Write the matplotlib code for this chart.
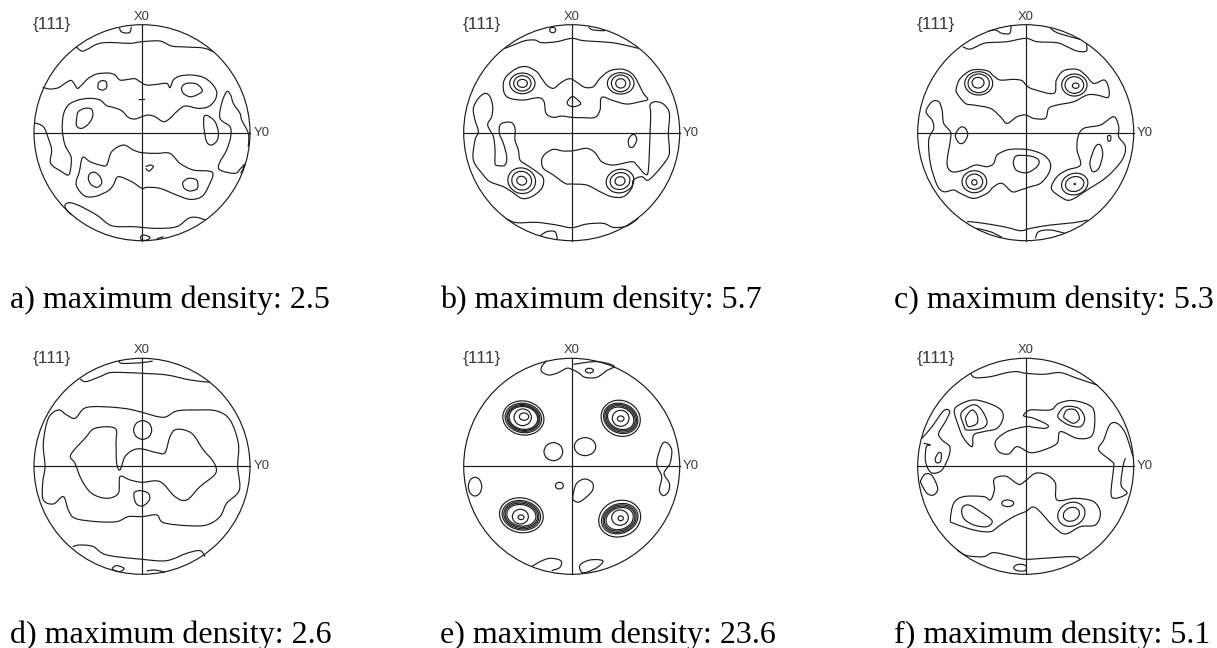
import matplotlib
matplotlib.use('Agg')
import matplotlib.pyplot as plt
from matplotlib.patches import Circle, Ellipse, PathPatch
from matplotlib.path import Path
import numpy as np

W, H = 1217, 648
INK = '#1c1c1c'
LW = 0.85

CAPTIONS = ['a) maximum density: 2.5', 'b) maximum density: 5.7', 'c) maximum density: 5.3',
            'd) maximum density: 2.6', 'e) maximum density: 23.6', 'f) maximum density: 5.1']

# contours, in 3x crop pixels, each panel has its own centre
A_C = (426, 398)
A_LINES = [
    [(358,84),(364,95),(378,99),(390,96),(394,80)],
    [(228,140),(245,153),(262,148),(285,135),(310,128),(350,128),(390,130),(426,125),(480,123),(515,138),(560,141),(610,144),(640,155)],
    [(128,262),(150,267),(175,263),(195,250),(212,241),(222,250),(232,265),(245,255),(265,235),(290,222),(325,219),(345,225),(360,240),(385,238),(405,236),(420,245),(440,255),(470,253),(500,250),(510,263),(520,240),(540,228),(575,225),(610,232),(635,250),(650,275),(645,300),(625,320),(595,325),(555,318),(530,335),(510,355),(490,365),(465,350),(445,345),(426,350),(405,357),(385,352),(365,332),(340,322),(320,317),(300,300),(270,295),(235,300),(205,315),(190,345),(187,390),(195,435),(213,470),(212,505),(205,525),(185,515),(152,490),(155,450),(145,415),(130,380),(103,368)],
    [(248,472),(270,485),(300,495),(320,495),(335,455),(370,435),(400,450),(426,458),(470,460),(510,460),(540,490),(580,510),(637,517),(625,560),(605,590),(570,598),(530,585),(480,565),(440,562),(426,565),(395,545),(355,530),(340,555),(325,572),(290,588),(260,590),(240,575),(228,550),(238,515),(248,472)],
    [(295,250),(305,242),(318,245),(320,262),(308,270),(295,265),(295,250)],
    [(545,262),(560,250),(590,252),(607,272),(590,285),(570,290),(550,280),(545,262)],
    [(235,335),(255,325),(275,328),(278,350),(265,372),(245,385),(230,378),(230,355),(235,335)],
    [(416,299),(435,298)],
    [(612,350),(625,348),(645,365),(655,395),(652,420),(635,435),(620,425),(612,385),(612,350)],
    [(745,440),(745,400),(725,360),(720,340),(700,310),(692,285),(680,275),(665,310),(660,355),(690,380),(692,410),(680,450),(658,490),(660,510),(705,520),(722,505),(735,493),(722,520)],
    [(270,520),(285,517),(300,530),(305,550),(290,562),(272,552),(265,535),(270,520)],
    [(550,545),(565,535),(590,540),(592,565),(570,573),(553,565),(548,552),(550,545)],
    [(437,500),(450,495),(460,500),(447,513),(437,505)],
    [(215,645),(200,630),(195,615),(210,608),(240,618),(290,645),(335,677),(400,680),(470,685),(530,680),(565,655),(590,652),(617,660)],
    [(422,710),(432,705),(450,712),(440,720),(425,720),(422,710)],
    [(470,716),(490,710)],
]
A_RINGS = []

B_C = (485, 398)
B_LINES = [
    [(535,82),(550,90),(585,92)],
    [(285,145),(310,135),(345,122),(375,120),(395,128),(440,125),(485,115),(520,122),(570,125),(620,130),(685,145)],
    [(280,250),(290,228),(320,205),(350,200),(380,215),(395,235),(410,255),(430,265),(450,250),(470,238),(485,237),(505,250),(525,262),(550,260),(570,235),(600,212),(640,208),(670,225),(690,260),(700,280),(713,298),(690,305),(650,312),(610,302),(575,292),(570,330),(555,352),(520,353),(485,352),(455,348),(430,352),(408,340),(402,305),(385,293),(340,300),(300,295),(283,280),(280,250)],
    [(472,305),(485,290),(498,295),(512,312),(490,320),(475,315),(472,305)],
    [(190,325),(205,295),(225,280),(240,290),(248,320),(245,350),(233,375),(250,410),(255,450),(255,490),(265,497),(285,495),(290,470),(280,430),(268,400),(270,375),(285,367),(305,368),(315,385),(315,420),(325,450),(330,480),(350,495),(380,515),(400,535),(395,565),(365,590),(335,595),(305,575),(280,560),(240,545),(220,525),(190,480),(195,420),(205,395),(195,360),(190,325)],
    [(665,405),(675,405),(680,420),(670,440),(658,440),(655,420),(665,405)],
    [(395,480),(405,462),(430,448),(460,453),(490,452),(530,445),(555,458),(575,485),(610,495),(665,485),(680,495),(705,522),(715,510),(720,400),(722,340),(720,315),(735,305),(760,312),(778,340),(775,400),(778,445),(775,470),(750,505),(715,540),(695,530),(670,540),(665,565),(640,590),(605,590),(570,575),(530,555),(485,552),(465,550),(430,525),(400,505),(395,480)],
    [(290,657),(320,668),(380,667),(440,675),(485,683),(530,672),(580,670),(610,682),(650,678),(685,655)],
    [(390,708),(410,695),(435,695),(442,718)],
]
B_RINGS = [(428,90,9,8,0),
           (337,250,38,31,0),(337,250,26,23,0),(337,250,15,12,0),
           (632,250,40,32,0),(632,250,28,25,0),(632,250,15,14,0),
           (335,542,42,38,-20),(335,542,30,28,-20),(335,542,15,13,-20),
           (630,543,42,35,15),(630,543,30,25,15),(630,543,15,13,15)]

C_C = (626, 398)
C_LINES = [
    [(515,93),(535,90),(555,100),(578,100),(582,78)],
    [(700,85),(725,100),(790,118)],
    [(437,140),(460,147),(500,130),(530,127),(570,125),(626,115),(660,125),(720,128),(750,140),(780,153),(808,153),(808,130)],
    [(418,265),(430,235),(465,210),(510,212),(530,228),(550,240),(590,238),(615,242),(630,258),(650,268),(710,280),(718,240),(740,212),(780,208),(805,225),(830,250),(862,240),(875,265),(873,292),(840,285),(810,285),(770,305),(720,315),(695,325),(685,355),(650,355),(626,345),(600,350),(570,370),(550,350),(520,325),(470,315),(445,310),(420,280),(418,265)],
    [(327,335),(345,305),(365,305),(375,330),(380,370),(400,395),(400,420),(390,490),(405,515),(440,510),(475,495),(510,500),(530,490),(540,465),(570,450),(600,447),(640,450),(680,465),(700,490),(695,520),(670,550),(640,560),(610,570),(585,575),(555,550),(530,560),(510,580),(470,595),(430,580),(410,570),(380,575),(360,555),(340,490),(335,420),(350,385),(345,360),(327,335)],
    [(415,405),(430,382),(445,385),(452,405),(440,428),(425,428),(415,405)],
    [(590,480),(600,467),(640,468),(665,480),(660,500),(630,518),(600,512),(590,495),(590,480)],
    [(703,565),(720,530),(750,510),(790,495),(780,450),(783,410),(800,385),(850,375),(890,350),(905,380),(905,410),(925,440),(915,480),(870,530),(810,570),(760,600),(730,590),(703,565)],
    [(872,408),(881,408),(880,422),(873,422),(872,408)],
    [(820,480),(835,440),(850,435),(857,465),(845,505),(828,515),(820,500),(820,480)],
    [(450,665),(480,667),(560,680),(610,692),(640,685),(700,675),(770,668),(812,660)],
    [(478,685),(520,695),(555,712)],
    [(655,715),(665,695),(700,690),(745,700)],
]
C_RINGS = [(485,250,42,35,0),(485,250,32,28,0),(483,248,18,16,0),
           (772,255,38,33,0),(772,255,28,25,0),(776,257,10,8,0),
           (472,545,37,33,0),(472,545,25,23,0),(472,547,8,8,0),
           (773,552,40,32,15),(773,552,28,22,15),(773,552,2,2,0)]

D_C = (426, 409)
D_LINES = [
    [(358,90),(365,100),(426,98),(458,93)],
    [(240,147),(258,155),(300,140),(330,128),(380,128),(426,130),(500,135),(570,150),(630,157)],
    [(175,240),(200,255),(225,265),(250,237),(280,230),(340,232),(390,238),(426,247),(490,262),(530,243),(590,240),(650,243),(690,270),(715,340),(713,409),(718,480),(680,520),(660,560),(620,585),(560,587),(490,578),(470,555),(426,560),(385,560),(350,575),(290,575),(225,565),(205,540),(190,500),(160,522),(130,510),(128,460),(135,409),(130,340),(145,265),(175,240)],
    [(212,375),(255,325),(285,295),(345,295),(348,340),(350,400),(360,420),(375,380),(400,360),(426,357),(470,368),(495,368),(510,320),(530,298),(575,310),(610,360),(640,395),(647,430),(600,470),(560,510),(525,500),(480,455),(426,457),(390,450),(360,440),(355,490),(320,505),(275,490),(245,450),(225,400),(212,375)],
    [(402,490),(420,482),(445,490),(448,510),(428,528),(408,520),(402,490)],
    [(218,650),(240,645),(280,650),(320,675),(426,688),(500,692),(560,670),(600,662),(615,680)],
    [(337,715),(350,707),(372,715),(360,725),(345,722),(337,715)],
    [(440,723),(465,720),(495,727)],
]
D_RINGS = [(428,300,27,28,0)]

E_C = (485, 409)
E_LINES = [
    [(410,92),(395,110),(395,125),(415,135),(440,130),(470,115),(485,118),(505,128),(525,142),(560,142),(590,122),(612,108),(560,95),(490,103)],
    [(740,400),(755,345),(770,338),(785,360),(780,400),(762,430),(778,460),(775,485),(760,497),(748,480),(755,440),(740,400)],
    [(490,490),(500,460),(525,447),(548,460),(545,485),(510,515),(490,510),(490,490)],
    [(365,710),(390,695),(420,685),(452,692),(450,712),(425,722)],
    [(510,705),(540,690),(578,692),(565,710),(535,725),(515,727),(510,705)],
]
E_RINGS = [(538,122,12,7,0),(430,365,28,27,0),(525,350,32,27,0),(195,470,20,28,0),(448,467,12,10,0),
           (340,264,62,51,-10),(340,264,55,44,-10),(340,264,50,40,-10),(340,264,47,37,-10),(340,264,43,34,-10),(338,262,26,25,0),(342,260,14,11,0),
           (632,265,60,53,-25),(632,265,53,44,-25),(632,265,49,40,-25),(632,265,45,36,-25),(632,265,41,32,-25),(632,265,25,24,0),(632,266,10,8,0),
           (334,556,66,52,-10),(334,556,58,44,-10),(334,556,53,40,-10),(334,556,49,36,-10),(334,556,44,32,-10),(331,560,24,22,0),(333,562,9,7,0),
           (629,566,64,54,20),(629,566,56,44,20),(629,566,51,40,20),(629,566,47,36,20),(629,566,42,32,20),(630,563,25,23,0),(632,565,8,7,0)]

F_C = (626, 409)
F_LINES = [
    [(460,130),(475,143),(520,140),(570,128),(600,125),(626,130),(680,133),(730,128),(780,145),(840,165)],
    [(315,325),(345,290),(380,242),(398,245),(385,275),(365,310),(375,330),(398,350),(395,380),(375,420),(350,430),(335,420),(325,390),(328,350),(340,345),(320,340)],
    [(355,385),(365,368),(373,372),(370,395),(358,398),(355,385)],
    [(412,240),(440,218),(475,210),(520,222),(552,240),(558,265),(540,295),(500,305),(470,315),(465,350),(440,325),(425,290),(412,240)],
    [(432,250),(465,225),(490,235),(510,275),(495,295),(450,300),(440,285),(432,250)],
    [(447,260),(465,240),(480,255),(480,280),(455,290),(447,275),(447,260)],
    [(620,255),(640,240),(700,240),(725,220),(770,212),(825,232),(833,280),(822,320),(780,325),(730,305),(720,340),(680,360),(640,368),(600,350),(575,372),(545,365),(535,335),(570,305),(626,290),(650,292),(685,295),(692,285),(650,265),(626,260),(620,255)],
    [(725,250),(745,230),(785,235),(803,265),(790,290),(755,285),(725,265),(725,250)],
    [(740,260),(750,240),(775,240),(787,265),(770,280),(750,270),(740,260)],
    [(948,380),(925,310),(900,280),(878,285),(860,330),(845,360),(885,395),(890,409),(882,490),(895,505),(930,490),(912,465),(918,409),(925,385)],
    [(312,450),(325,432),(345,437),(362,475),(350,495),(330,490),(312,460),(312,450)],
    [(530,450),(545,440),(570,440),(605,463),(626,452),(655,430),(690,435),(715,460),(720,510),(775,505),(830,515),(850,550),(835,585),(790,590),(745,612),(710,590),(655,533),(626,545),(590,560),(550,585),(520,605),(470,600),(410,580),(400,570),(410,520),(440,500),(500,500),(520,510),(532,480),(530,450)],
    [(435,535),(455,525),(490,545),(525,572),(510,590),(470,585),(440,565),(435,535)],
    [(420,660),(450,677),(500,680),(530,668),(590,680),(626,688),(680,685),(770,680),(790,690)],
    [(590,712),(605,703),(626,707),(625,722),(600,722),(590,712)],
]
F_RINGS = [(572,520,18,10,0),(763,553,42,35,25),(763,553,25,20,25)]

PANELS = [(A_C, A_LINES, A_RINGS), (B_C, B_LINES, B_RINGS), (C_C, C_LINES, C_RINGS),
          (D_C, D_LINES, D_RINGS), (E_C, E_LINES, E_RINGS), (F_C, F_LINES, F_RINGS)]

CENTRES = [(142, 132.7), (571.7, 132.7), (1025.7, 132.7),
           (142, 466.3), (571.7, 466.3), (1025.7, 466.3)]
CAPTION_X = [10, 440, 894, 10, 440, 894]
CAPTION_Y = [308, 308, 308, 643, 643, 643]
RADIUS = 108
CROP_R = 324


def smooth_path(arr):
    # rounded line through the traced points, bezier handles only
    closed = len(arr) > 3 and np.allclose(arr[0], arr[-1])
    n = len(arr)
    verts = [arr[0]]
    codes = [Path.MOVETO]
    for k in range(n - 1):
        p1, p2 = arr[k], arr[k + 1]
        if closed:
            p0 = arr[k - 1] if k > 0 else arr[n - 2]
            p3 = arr[k + 2] if k + 2 < n else arr[1]
        else:
            p0 = arr[max(k - 1, 0)]
            p3 = arr[min(k + 2, n - 1)]
        verts += [p1 + (p2 - p0) / 6, p2 - (p3 - p1) / 6, p2]
        codes += [Path.CURVE4] * 3
    return Path(verts, codes)


fig = plt.figure(figsize=(W / 100, H / 100), dpi=100, facecolor='white')

for i, (centre, lines, rings) in enumerate(PANELS):
    px, py = CENTRES[i]
    ax = fig.add_axes([(px - RADIUS) / W, 1 - (py + RADIUS) / H, 2 * RADIUS / W, 2 * RADIUS / H])
    ax.set_xlim(-1, 1)
    ax.set_ylim(-1, 1)
    ax.axis('off')

    ax.add_patch(Circle((0, 0), 1, fill=False, edgecolor=INK, lw=LW, clip_on=False))
    ax.plot([-1, 1], [0, 0], color=INK, lw=LW, clip_on=False)
    ax.plot([0, 0], [-1, 1], color=INK, lw=LW, clip_on=False)

    for pts in lines:
        arr = np.array(pts, dtype=float)
        arr = np.column_stack([(arr[:, 0] - centre[0]) / CROP_R, (centre[1] - arr[:, 1]) / CROP_R])
        ax.add_patch(PathPatch(smooth_path(arr), fill=False, edgecolor=INK, lw=LW,
                               joinstyle='round', clip_on=False))
    for cx, cy, rx, ry, ang in rings:
        ax.add_patch(Ellipse(((cx - centre[0]) / CROP_R, (centre[1] - cy) / CROP_R),
                             2 * rx / CROP_R, 2 * ry / CROP_R, angle=ang,
                             fill=False, edgecolor=INK, lw=LW, clip_on=False))

    small = dict(family='Liberation Sans', color='#3a3a3a', va='center')
    ax.text(-0.83, 1.0, '{111}', ha='center', fontsize=12.5, **small)
    ax.text(0, 1.075, 'X0', ha='center', fontsize=9.4, **small)
    ax.text(1.03, 0, 'Y0', ha='left', fontsize=9.4, **small)

    fig.text(CAPTION_X[i] / W, 1 - CAPTION_Y[i] / H, CAPTIONS[i], family='Liberation Serif',
             fontsize=23, color='black', ha='left', va='baseline')

fig.savefig('out.png', dpi=100, facecolor='white')
